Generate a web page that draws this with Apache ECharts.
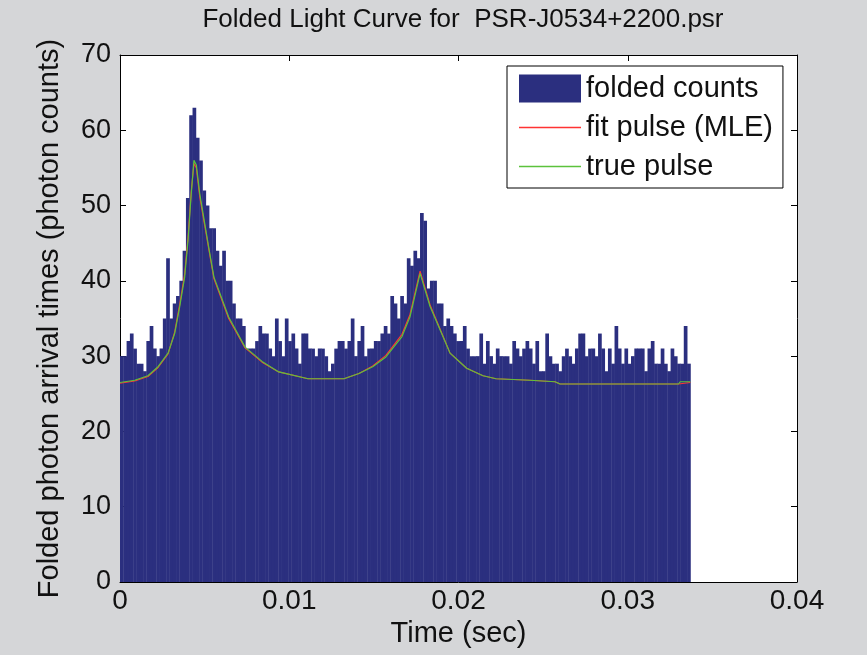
<!DOCTYPE html>
<html>
<head>
<meta charset="utf-8">
<script src="https://cdn.jsdelivr.net/npm/echarts@6/dist/echarts.min.js"></script>
<style>
  html, body { margin: 0; padding: 0; background: #d5d6d8; }
  #chart { width: 867px; height: 655px; }
</style>
</head>
<body>
<div id="chart"></div>
<script>
// folded light curve

var period = 0.0337;   // last bin edge (sec)

// photon counts per phase bin
var counts = [
    30, 30, 32, 33, 31, 29, 29, 28, 32, 34, 31, 30, 31, 35, 43, 35, 37, 38, 40, 44,
    51, 62, 63, 59, 56, 52, 50, 47, 47, 44, 42, 44, 40, 40, 37, 35, 35, 34, 31, 31,
    31, 32, 34, 33, 33, 31, 30, 35, 32, 30, 35, 32, 33, 31, 29, 33,
    33, 31, 31, 30, 31, 31, 30, 28, 29, 31, 32, 32, 31, 32, 35, 30, 32, 34, 30, 31,
    31, 32, 32, 33, 34, 33, 38, 37, 35,
    38, 37, 43, 42, 44, 43, 49, 48, 39, 40, 40, 37, 37, 34, 35, 34, 33, 32, 32, 34,
    31, 30, 30, 30, 33, 29, 32, 30, 29,
    31, 30, 30, 30, 29, 32, 31, 30, 31, 32, 31, 29, 32, 28, 28, 33, 30, 29, 29, 28,
    30, 31, 30, 29, 31, 33, 33, 30, 31,
    31, 30, 33, 31, 28, 31, 29, 34, 31, 29, 31, 29, 30, 31, 31, 31, 28, 31, 32, 29,
    29, 31, 29, 28, 31, 30, 29, 29, 34, 29
];

// pulse profiles
var curveT = [
    0, 0.00087, 0.00165, 0.00225, 0.00284, 0.00323, 0.00353, 0.00382, 0.00402, 0.00421,
    0.00437, 0.00451, 0.00471, 0.00500, 0.00530, 0.00555, 0.00642, 0.00739, 0.00839, 0.00938,
    0.01111, 0.01323, 0.01412, 0.01493, 0.01571, 0.01666, 0.01713, 0.01773, 0.01832, 0.01891,
    0.01950, 0.02048, 0.02145, 0.02222, 0.02422, 0.02570, 0.02600, 0.03300, 0.03310, 0.03370
];
var fitV = [
    26.4, 26.7, 27.3, 28.5, 30.3, 33.2, 36.9, 40.9, 45.8, 51.9,
    55.6, 55.0, 51.2, 47.4, 43.5, 40.3, 35.0, 31.1, 29.2, 27.9,
    27.0, 27.0, 27.7, 28.7, 30.1, 32.9, 35.5, 41.3, 36.8, 33.6,
    30.4, 28.4, 27.4, 27.0, 26.8, 26.6, 26.3, 26.3, 26.5, 26.5
];
var trueV = [
    26.5, 26.8, 27.4, 28.6, 30.4, 33.0, 36.6, 40.5, 45.4, 51.6,
    56.0, 55.4, 51.6, 47.7, 43.7, 40.5, 35.2, 31.2, 29.3, 27.9,
    27.0, 27.0, 27.7, 28.6, 29.9, 32.6, 35.2, 41.0, 36.6, 33.5,
    30.4, 28.4, 27.4, 27.0, 26.8, 26.6, 26.3, 26.3, 26.6, 26.6
];

var xTicks = [0, 0.01, 0.02, 0.03, 0.04];
var yTicks = [0, 10, 20, 30, 40, 50, 60, 70];

var FONT = '"Liberation Sans", Arial, Helvetica, sans-serif';
var BAR = '#2b2f7f';
var LINE_ICON = 'path://M0,0 L62,0 L62,1.6 L0,1.6 Z';

var binW = period / counts.length;
var barData = counts.map(function (c, i) {
    return [i * binW, (i + 1) * binW, c];
});
function pairs(t, v) {
    return t.map(function (x, i) { return [x, v[i]]; });
}

var chart = echarts.init(document.getElementById('chart'));

var tickStyle = { show: true, inside: true, length: 6, lineStyle: { color: '#000', width: 1 } };
var lineStyle = { show: true, onZero: false, lineStyle: { color: '#000', width: 1 } };

chart.setOption({
    backgroundColor: '#d5d6d8',
    animation: false,
    title: {
        text: 'Folded Light Curve for  PSR-J0534+2200.psr',
        left: 458,
        textAlign: 'center',
        top: 2,
        textStyle: { fontFamily: FONT, fontSize: 26, fontWeight: 'normal', color: '#111' }
    },
    grid: {
        left: 120, right: 70, top: 55, bottom: 73,
        show: true, backgroundColor: '#fff', borderWidth: 0
    },
    legend: {
        orient: 'vertical',
        left: 507,
        top: 66,
        padding: [8, 10, 7, 12],
        itemWidth: 62,
        itemHeight: 28,
        itemGap: 10,
        symbolKeepAspect: true,
        backgroundColor: '#fff',
        borderColor: '#000',
        borderWidth: 1,
        borderRadius: 0,
        textStyle: { fontFamily: FONT, fontSize: 29, color: '#111' },
        data: [
            { name: 'folded counts', icon: 'rect' },
            { name: 'fit pulse (MLE)', icon: LINE_ICON },
            { name: 'true pulse', icon: LINE_ICON }
        ]
    },
    xAxis: [
        {
            type: 'value', min: xTicks[0], max: xTicks[xTicks.length - 1], interval: 0.01,
            position: 'bottom',
            name: 'Time (sec)', nameLocation: 'middle', nameGap: 34,
            nameTextStyle: { fontFamily: FONT, fontSize: 29, color: '#111' },
            axisLine: lineStyle, axisTick: tickStyle,
            axisLabel: {
                fontFamily: FONT, fontSize: 28, color: '#111', margin: 5,
                formatter: function (v) { return v === 0 ? '0' : v.toFixed(2); }
            },
            splitLine: { show: false }
        },
        {
            type: 'value', min: xTicks[0], max: xTicks[xTicks.length - 1], interval: 0.01,
            position: 'top',
            axisLine: lineStyle, axisTick: tickStyle,
            axisLabel: { show: false }, splitLine: { show: false }
        }
    ],
    yAxis: [
        {
            type: 'value', min: yTicks[0], max: yTicks[yTicks.length - 1], interval: 10,
            position: 'left',
            name: 'Folded photon arrival times (photon counts)', nameLocation: 'middle', nameGap: 56,
            nameTextStyle: { fontFamily: FONT, fontSize: 29, color: '#111' },
            axisLine: lineStyle, axisTick: tickStyle,
            axisLabel: { fontFamily: FONT, fontSize: 27, color: '#111', margin: 9 },
            splitLine: { show: false }
        },
        {
            type: 'value', min: yTicks[0], max: yTicks[yTicks.length - 1], interval: 10,
            position: 'right',
            axisLine: lineStyle, axisTick: tickStyle,
            axisLabel: { show: false }, splitLine: { show: false }
        }
    ],
    series: [
        {
            name: 'folded counts',
            type: 'custom',
            xAxisIndex: 0, yAxisIndex: 0,
            itemStyle: { color: BAR },
            data: barData,
            renderItem: function (params, api) {
                var p0 = api.coord([api.value(0), api.value(2)]);
                var p1 = api.coord([api.value(1), 0]);
                return {
                    type: 'rect',
                    shape: { x: p0[0], y: p0[1], width: p1[0] - p0[0] + 0.4, height: p1[1] - p0[1] },
                    style: { fill: BAR }
                };
            }
        },
        {
            name: 'fit pulse (MLE)',
            type: 'line',
            symbol: 'none',
            color: '#ff3333',
            lineStyle: { color: '#ff3333', width: 1.2 },
            data: pairs(curveT, fitV)
        },
        {
            name: 'true pulse',
            type: 'line',
            symbol: 'none',
            color: '#5cc23c',
            lineStyle: { color: '#5cc23c', width: 1.2 },
            data: pairs(curveT, trueV)
        }
    ]
});
</script>
</body>
</html>
